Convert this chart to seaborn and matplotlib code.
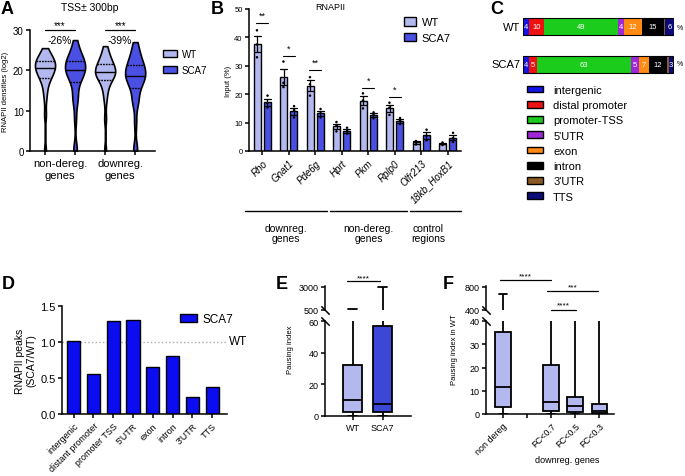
import numpy as np
import pandas as pd
import matplotlib
matplotlib.use("Agg")
import matplotlib.pyplot as plt
import matplotlib.transforms as mtransforms
from matplotlib.patches import Patch
import seaborn as sns

# ---------------- data ----------------
# A: RNAPII densities TSS +-300bp (log2), percentile points of each violin
a_groups = ["non-dereg.\ngenes", "downreg.\ngenes"]
a_wt_nondereg = [0, 9, 13, 15, 16.5, 17.5, 18.2, 18.6, 19.0, 19.5, 19.9, 20.2, 20.5,
                 20.8, 21.1, 21.4, 21.7, 22.0, 22.3, 22.6, 22.9, 23.3, 23.8, 24.5, 25.5]
a_sca7_nondereg = [0, 0.4, 8, 12.5, 12.8, 14.5, 17.0, 17.7, 18.3, 18.9, 19.4, 19.7, 20.0,
                   20.4, 20.8, 21.2, 21.6, 22.0, 22.3, 22.7, 23.2, 23.8, 24.6, 25.8, 27.5]
a_wt_downreg = [0, 8, 12.5, 14.5, 15.8, 16.8, 17.6, 18.1, 18.5, 18.8, 19.1, 19.3, 19.5,
                19.8, 20.1, 20.4, 20.8, 21.2, 21.6, 22.0, 22.5, 23.0, 23.8, 24.8, 26]
a_sca7_downreg = [0, 0.6, 7, 11.8, 12.4, 13.5, 15.6, 16.4, 17.0, 17.6, 18.0, 18.4, 18.7,
                  19.1, 19.5, 19.9, 20.4, 20.9, 21.4, 21.9, 22.5, 23.3, 24.3, 25.5, 27]
a_pct = ["-26%", "-39%"]
a_sig = ["***", "***"]

# B: RNAPII ChIP-qPCR, 3 replicates per bar (% input)
b_genes = ["Rho", "Gnat1", "Pde6g", "Hprt", "Pkm", "Rplp0", "Olfr213", "18kb_HoxB1"]
b_wt = [[42.5, 37.5, 33], [31.5, 24, 22.5], [26, 23.5, 19.5], [10.2, 9, 6.9],
        [20.3, 17.8, 15], [17, 15.3, 12.7], [3.5, 3.2, 2.3], [3.0, 2.7, 2.1]]
b_sca7 = [[19.5, 16.8, 15.3], [15.8, 14.4, 11.8], [14.8, 13.3, 11.8], [8.2, 7.0, 6.1],
          [13.6, 12.7, 11.5], [11.6, 10.7, 9.5], [7.5, 5.3, 3.7], [6.4, 4.5, 3.2]]
b_sig_genes = ["Rho", "Gnat1", "Pde6g", "Pkm", "Rplp0"]
b_sig_y = [45.1, 33.5, 28.6, 22.2, 19.1]
b_sig_txt = ["**", "*", "**", "*", "*"]
b_blocks = ["downreg.\ngenes", "non-dereg.\ngenes", "control\nregions"]

# C: genomic annotation of RNAPII peaks (%)
c_feat = ["intergenic", "distal promoter", "promoter-TSS", "5'UTR", "exon", "intron", "3'UTR", "TTS"]
c_colors = ["#1414e6", "#ee1111", "#1ccc1c", "#9f27d8", "#ff8a14", "#000000", "#8a5a24", "#0a0a78"]
c_wt = [4, 10, 49, 4, 12, 15, 0.6, 6]
c_sca7 = [4, 5, 63, 5, 7, 12, 1, 3]
c_wt_lbl = ["4", "10", "49", "4", "12", "15", "", "6"]
c_sca7_lbl = ["4", "5", "63", "5", "7", "12", "", "3"]

# D: peak ratio SCA7/WT
d_feat = ["intergenic", "distant promoter", "promoter TSS", "5'UTR", "exon", "intron", "3'UTR", "TTS"]
d_ratio = [1.02, 0.56, 1.29, 1.30, 0.65, 0.81, 0.24, 0.37]

# E: pausing index, five-number summaries (min, q1, median, q3, max)
e_groups = ["WT", "SCA7"]
e_wt = [0, 2.5, 10.2, 32.4, 650]
e_sca7 = [0, 2.3, 7.4, 57, 3000]

# F: pausing index in WT
f_groups = ["non dereg", "", "FC<0.7", "FC<0.5", "FC<0.3"]
f_nondereg = [0, 2.9, 11.7, 35.4, 680]
f_fc07 = [0, 1.4, 5.3, 21, 150]
f_fc05 = [0, 1.0, 3.4, 7.2, 150]
f_fc03 = [0, 0.4, 1.3, 4.3, 150]

WT_C = "#b3b8ee"
SCA7_C = "#4b50e4"
E_SCA7_C = "#3d47d6"
D_C = "#0c0cf0"

# ---------------- style ----------------
sns.set_style("ticks")
plt.rcParams['font.family'] = ['Liberation Sans', 'DejaVu Sans']
plt.rcParams['text.color'] = 'black'
plt.rcParams['axes.labelcolor'] = 'black'
plt.rcParams['axes.edgecolor'] = 'black'
plt.rcParams['xtick.color'] = 'black'
plt.rcParams['ytick.color'] = 'black'
plt.rcParams['axes.linewidth'] = 1.1
plt.rcParams['xtick.major.width'] = 1.1
plt.rcParams['ytick.major.width'] = 1.1
plt.rcParams['xtick.major.size'] = 3
plt.rcParams['ytick.major.size'] = 3
plt.rcParams['xtick.major.pad'] = 2
plt.rcParams['ytick.major.pad'] = 1.5

W, H = 685, 477
fig = plt.figure(figsize=(W / 100, H / 100), dpi=100)


def rect(x0, y0, x1, y1):
    return [x0 / W, 1 - y1 / H, (x1 - x0) / W, (y1 - y0) / H]


def fx(px):
    return px / W


def fy(py):
    return 1 - py / H


def xblend(ax):
    return mtransforms.blended_transform_factory(ax.transData, fig.transFigure)


def sig(ax, x0, x1, py_line, py_txt, txt, fs=6):
    tr = xblend(ax)
    ax.plot([x0, x1], [fy(py_line)] * 2, color="black", lw=0.9, transform=tr, clip_on=False)
    ax.text((x0 + x1) / 2, fy(py_txt), txt, transform=tr, ha="center", va="center", fontsize=fs)


def breaks(ax_top, ax_bot):
    kw = dict(marker=[(-1, 1), (1, -1)], markersize=6, linestyle="none", color="k",
              mec="k", mew=1.1, clip_on=False)
    ax_top.plot([0], [0], transform=ax_top.transAxes, **kw)
    ax_bot.plot([0], [1], transform=ax_bot.transAxes, **kw)


pal = {"WT": WT_C, "SCA7": SCA7_C}

# ---------------- A ----------------
ax_a = fig.add_axes(rect(30, 31, 155, 152))
rows = []
for grp, geno, vals in [(a_groups[0], "WT", a_wt_nondereg), (a_groups[0], "SCA7", a_sca7_nondereg),
                        (a_groups[1], "WT", a_wt_downreg), (a_groups[1], "SCA7", a_sca7_downreg)]:
    rows += [(grp, geno, v) for v in vals]
dfa = pd.DataFrame(rows, columns=["group", "genotype", "value"])
sns.violinplot(data=dfa, x="group", y="value", hue="genotype", hue_order=["WT", "SCA7"],
               palette=pal, inner="quart", cut=0, density_norm="width", bw_adjust=0.55,
               width=1.0, gap=0.33, linewidth=1.2, linecolor="black", saturation=1,
               inner_kws={"linewidth": 1}, legend=False, ax=ax_a)
for i, ln in enumerate(ax_a.lines):
    if i % 3 == 1:
        ln.set_linestyle("-")
ax_a.set_xlim(-0.5, 1.58)
ax_a.set_ylim(0, 30)
ax_a.set_yticks([0, 10, 20, 30])
ax_a.set_xticks([-0.25, 0.25, 0.75, 1.25])
ax_a.set_xticklabels([])
ax_a.set_xticks([0, 1], minor=True)
ax_a.set_xticklabels(a_groups, minor=True, fontsize=8)
ax_a.tick_params(axis="x", which="minor", length=0, pad=5)
ax_a.tick_params(axis="y", labelsize=7)
ax_a.set_xlabel("")
ax_a.set_ylabel("RNAPII densities (log2)", fontsize=5.5, labelpad=3)
sns.despine(ax=ax_a)
for k in range(2):
    sig(ax_a, k - 0.25, k + 0.25, 31, 26, a_sig[k], 7)
    ax_a.text(k, fy(41), a_pct[k], transform=xblend(ax_a), ha="center", va="center", fontsize=7.5)
fig.text(fx(90), fy(8), "TSS± 300bp", ha="center", va="center", fontsize=7.5)
fig.legend(handles=[Patch(facecolor=WT_C, edgecolor="black", label="WT"),
                    Patch(facecolor=SCA7_C, edgecolor="black", label="SCA7")],
           loc="upper left", bbox_to_anchor=(fx(163), fy(50)), frameon=False, fontsize=7,
           handlelength=1.4, handleheight=0.8, handletextpad=0.5, labelspacing=0.6,
           borderpad=0, borderaxespad=0)

# ---------------- B ----------------
ax_b = fig.add_axes(rect(249, 10, 461, 152))
rows = []
for g, w, s in zip(b_genes, b_wt, b_sca7):
    rows += [(g, "WT", v) for v in w] + [(g, "SCA7", v) for v in s]
dfb = pd.DataFrame(rows, columns=["gene", "genotype", "value"])
sns.barplot(data=dfb, x="gene", y="value", hue="genotype", hue_order=["WT", "SCA7"],
            palette=pal, errorbar="se", capsize=0.5, saturation=1,
            err_kws={"color": "black", "linewidth": 0.9}, edgecolor="black", linewidth=1.0,
            width=0.76, gap=0.3, legend=False, ax=ax_b)
sns.stripplot(data=dfb, x="gene", y="value", hue="genotype", hue_order=["WT", "SCA7"],
              palette=["black", "black"], dodge=True, jitter=False, size=1.8, legend=False, ax=ax_b)
ax_b.set_xlim(-0.5, 7.5)
ax_b.set_ylim(0, 50)
ax_b.set_yticks(range(0, 51, 10))
ax_b.set_xticks(range(len(b_genes)))
ax_b.set_xticklabels(b_genes, rotation=45, ha="right", rotation_mode="anchor",
                     fontsize=7, fontstyle="italic")
ax_b.tick_params(axis="y", labelsize=5.5)
ax_b.set_xlabel("")
ax_b.set_ylabel("Input (%)", fontsize=5.5, labelpad=2)
sns.despine(ax=ax_b)
for g, y, t in zip(b_sig_genes, b_sig_y, b_sig_txt):
    i = b_genes.index(g)
    ax_b.plot([i - 0.22, i + 0.22], [y, y], color="black", lw=0.8)
    ax_b.text(i, y + 2.6, t, ha="center", va="center", fontsize=6.5)
tr = xblend(ax_b)
for (x0, x1), xc, lab in zip([(-0.66, 2.43), (2.55, 5.45), (5.57, 7.5)], [0.89, 4.02, 6.25], b_blocks):
    ax_b.plot([x0, x1], [fy(212)] * 2, color="black", lw=1.0, transform=tr, clip_on=False)
    ax_b.text(xc, fy(234), lab, transform=tr, ha="center", va="center", fontsize=7.5, linespacing=1.1)
fig.text(fx(330), fy(7), "RNAPII", ha="center", va="center", fontsize=6.5)
fig.legend(handles=[Patch(facecolor=WT_C, edgecolor="black", label="WT"),
                    Patch(facecolor=SCA7_C, edgecolor="black", label="SCA7")],
           loc="upper left", bbox_to_anchor=(fx(404), fy(18)), frameon=False, fontsize=8,
           handlelength=1.1, handleheight=0.8, handletextpad=0.5, labelspacing=0.5,
           borderpad=0, borderaxespad=0)

# ---------------- C ----------------
ax_c = fig.add_axes(rect(523, 9, 674, 84))
left_wt, left_sca7 = 0, 0
for feat, col, vw, vs, lw_, ls_ in zip(c_feat, c_colors, c_wt, c_sca7, c_wt_lbl, c_sca7_lbl):
    bars = ax_c.barh([0, 1], [vw, vs], left=[left_wt, left_sca7], height=0.45, color=col,
                     edgecolor="none")
    ax_c.bar_label(bars, labels=[lw_, ls_], label_type="center", color="white", fontsize=5.5)
    left_wt += vw
    left_sca7 += vs
ax_c.barh([0, 1], [left_wt, left_sca7], height=0.45, fill=False, edgecolor="black", linewidth=0.8)
ax_c.set_xlim(0, max(left_wt, left_sca7))
ax_c.set_ylim(1.5, -0.5)
ax_c.axis("off")
for yy, lab in zip([28, 65], ["WT", "SCA7"]):
    fig.text(fx(520), fy(yy), lab, ha="right", va="center", fontsize=8)
    fig.text(fx(680), fy(yy), "%", ha="center", va="center", fontsize=5)
fig.legend(handles=[Patch(facecolor=c, edgecolor="black", label=f) for f, c in zip(c_feat, c_colors)],
           loc="upper left", bbox_to_anchor=(fx(527), fy(86)), frameon=False, fontsize=8,
           handlelength=1.45, handleheight=0.55, handletextpad=0.9, labelspacing=0.47,
           borderpad=0, borderaxespad=0)

# ---------------- D ----------------
ax_d = fig.add_axes(rect(62, 307, 227, 415))
sns.barplot(x=d_feat, y=d_ratio, color=D_C, saturation=1, edgecolor="black", linewidth=1.0,
            width=0.67, ax=ax_d)
ax_d.axhline(1.0, color="#aaaaaa", ls=":", lw=1, zorder=0)
ax_d.set_xlim(-0.59, 7.75)
ax_d.set_ylim(0, 1.5)
ax_d.set_yticks([0, 0.5, 1.0, 1.5])
ax_d.set_yticklabels(["0.0", "0.5", "1.0", "1.5"])
ax_d.set_xticks(range(len(d_feat)))
ax_d.set_xticklabels(d_feat, rotation=45, ha="right", rotation_mode="anchor", fontsize=6.5)
ax_d.tick_params(axis="y", labelsize=8)
ax_d.set_ylabel("RNAPII peaks\n(SCA7/WT)", fontsize=7.5, labelpad=3, linespacing=1.1)
sns.despine(ax=ax_d)
fig.text(fx(229), fy(342), "WT", ha="left", va="center", fontsize=8.5)
fig.legend(handles=[Patch(facecolor=D_C, edgecolor="black", label="SCA7")],
           loc="upper left", bbox_to_anchor=(fx(180), fy(314)), frameon=False, fontsize=8.5,
           handlelength=1.4, handleheight=0.7, handletextpad=0.5, borderpad=0, borderaxespad=0)

# ---------------- E ----------------
ax_e1 = fig.add_axes(rect(325, 287, 411, 311))
ax_e2 = fig.add_axes(rect(325, 322, 411, 417))
dfe = pd.DataFrame([("WT", v) for v in e_wt] + [("SCA7", v) for v in e_sca7], columns=["grp", "value"])
for ax in (ax_e1, ax_e2):
    sns.boxplot(data=dfe, x="grp", y="value", hue="grp", order=e_groups,
                palette={"WT": WT_C, "SCA7": E_SCA7_C}, whis=(0, 100), width=0.63,
                linecolor="black", linewidth=1.3, saturation=1, legend=False, ax=ax)
    ax.set_xlim(-0.92, 1.94)
    ax.set_xlabel("")
    ax.set_ylabel("")
    ax.tick_params(axis="y", labelsize=6.5)
ax_e1.set_ylim(500, 3060)
ax_e1.set_yticks([500, 3000])
ax_e1.set_xticks([])
for s in ["top", "right", "bottom"]:
    ax_e1.spines[s].set_visible(False)
ax_e2.set_ylim(0, 60)
ax_e2.set_yticks([0, 20, 40, 60])
ax_e2.tick_params(axis="x", labelsize=6.5)
sns.despine(ax=ax_e2)
breaks(ax_e1, ax_e2)
sig(ax_e1, -0.2, 0.9, 282, 279, "****", 6)
fig.text(fx(290), fy(350), "Pausing index", rotation=90, ha="center", va="center", fontsize=5.5)

# ---------------- F ----------------
ax_f1 = fig.add_axes(rect(486, 287, 614, 311))
ax_f2 = fig.add_axes(rect(486, 322, 614, 415))
rows = []
for grp, vals in [("non dereg", f_nondereg), ("FC<0.7", f_fc07), ("FC<0.5", f_fc05), ("FC<0.3", f_fc03)]:
    rows += [(grp, v) for v in vals]
dff = pd.DataFrame(rows, columns=["grp", "value"])
for ax in (ax_f1, ax_f2):
    sns.boxplot(data=dff, x="grp", y="value", order=f_groups, color=WT_C, whis=(0, 100),
                width=0.64, linecolor="black", linewidth=1.3, saturation=1, ax=ax)
    ax.set_xlim(-0.7, 4.61)
    ax.set_xlabel("")
    ax.set_ylabel("")
    ax.tick_params(axis="y", labelsize=6.5)
ax_f1.set_ylim(400, 815)
ax_f1.set_yticks([400, 800])
ax_f1.set_xticks([])
for s in ["top", "right", "bottom"]:
    ax_f1.spines[s].set_visible(False)
ax_f2.set_ylim(0, 40)
ax_f2.set_yticks(range(0, 41, 10))
ax_f2.set_xticks(range(len(f_groups)))
ax_f2.set_xticklabels(f_groups, rotation=45, ha="right", rotation_mode="anchor", fontsize=6.5)
sns.despine(ax=ax_f2)
breaks(ax_f1, ax_f2)
sig(ax_f1, -0.1, 2.0, 281, 277, "****", 6)
sig(ax_f1, 1.83, 3.95, 292, 288, "***", 6)
sig(ax_f1, 1.99, 3.02, 311, 306, "****", 6)
fig.text(fx(567), fy(461), "downreg. genes", ha="center", va="center", fontsize=6.5)
fig.text(fx(455), fy(350), "Pausing index in WT", rotation=90, ha="center", va="center", fontsize=5.5)

# ---------------- panel letters ----------------
for lab, x, y in [("A", 7, 10), ("B", 217, 10), ("C", 497, 9), ("D", 8, 285), ("E", 282, 285), ("F", 448, 285)]:
    fig.text(fx(x), fy(y), lab, ha="center", va="center", fontsize=13, fontweight="bold")

fig.savefig("out.png", dpi=100)
